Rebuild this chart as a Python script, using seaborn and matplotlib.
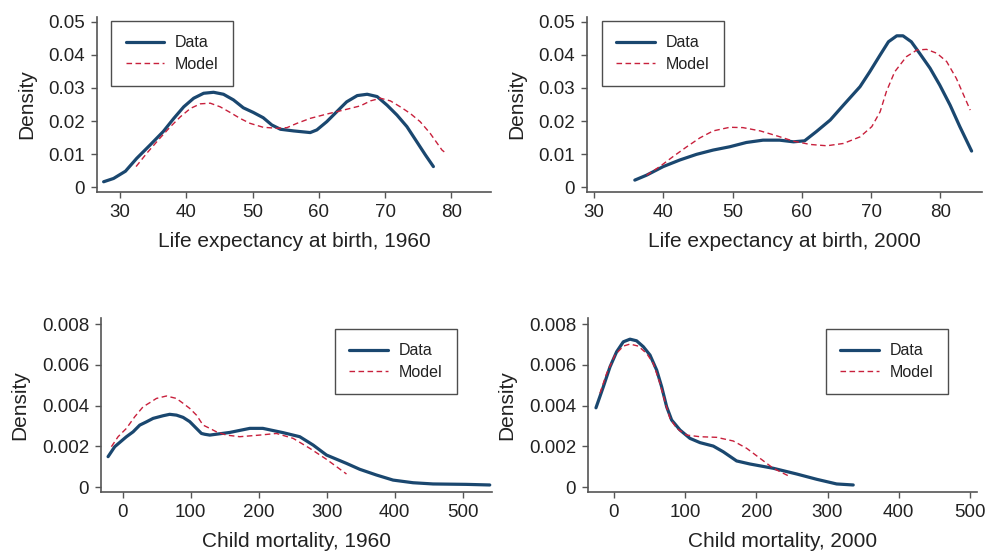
import matplotlib
matplotlib.use("Agg")
import matplotlib.pyplot as plt
import seaborn as sns
import pandas as pd

# ---- Life expectancy 1960 ----
le60_data_x = [27.5, 29.0, 30.8, 32.5, 34.5, 36.5, 38.1, 39.6, 41.1, 42.6, 44.1, 45.6, 47.1,
               48.6, 50.1, 51.6, 52.9, 54.2, 56.2, 58.7, 59.7, 61.2, 62.7, 64.2, 65.8, 67.3,
               68.8, 70.3, 71.8, 73.3, 74.8, 76.1, 77.3]
le60_data_y = [0.0016, 0.0026, 0.0048, 0.0087, 0.0127, 0.0168, 0.0208, 0.0243, 0.0269, 0.0284,
               0.0287, 0.0281, 0.0264, 0.0240, 0.0226, 0.0210, 0.0188, 0.0175, 0.0170, 0.0165,
               0.0173, 0.0198, 0.0228, 0.0258, 0.0277, 0.0281, 0.0274, 0.0248, 0.0218, 0.0183,
               0.0137, 0.0097, 0.0062]
le60_model_x = [32.4, 34.0, 36.0, 37.6, 39.1, 40.6, 42.1, 43.6, 45.1, 46.6, 48.1, 49.6, 51.6,
                53.7, 55.2, 56.7, 58.7, 61.2, 63.7, 66.3, 67.8, 69.3, 70.8, 72.3, 73.8, 75.3,
                76.8, 78.6, 79.1]
le60_model_y = [0.0062, 0.0102, 0.0148, 0.0183, 0.0213, 0.0238, 0.0252, 0.0254, 0.0243, 0.0226,
                0.0208, 0.0193, 0.0181, 0.0178, 0.0180, 0.0193, 0.0208, 0.0221, 0.0233, 0.0246,
                0.0261, 0.0269, 0.0261, 0.0243, 0.0223, 0.0198, 0.0163, 0.0112, 0.0104]

# ---- Life expectancy 2000 ----
le00_data_x = [35.9, 37.6, 40.0, 42.4, 44.8, 47.2, 49.6, 52.0, 54.4, 56.8, 58.8, 60.4, 62.1,
               64.1, 66.0, 68.4, 69.8, 71.3, 72.5, 73.7, 74.6, 75.8, 77.0, 78.5, 79.9, 81.4,
               82.8, 84.5]
le00_data_y = [0.0021, 0.0036, 0.0062, 0.0082, 0.0099, 0.0112, 0.0122, 0.0135, 0.0142, 0.0142,
               0.0137, 0.0140, 0.0168, 0.0203, 0.0248, 0.0304, 0.0349, 0.0400, 0.0440, 0.0458,
               0.0458, 0.0440, 0.0405, 0.0360, 0.0309, 0.0248, 0.0183, 0.0109]
le00_model_x = [37.6, 39.5, 41.4, 43.4, 45.3, 47.2, 49.6, 51.5, 54.0, 56.4, 58.8, 61.2, 63.6,
                66.0, 68.4, 70.1, 71.3, 72.2, 73.4, 75.1, 76.6, 78.0, 79.5, 80.9, 82.3, 84.3]
le00_model_y = [0.0036, 0.0062, 0.0092, 0.0122, 0.0149, 0.0170, 0.0181, 0.0180, 0.0170, 0.0155,
                0.0139, 0.0129, 0.0125, 0.0132, 0.0152, 0.0183, 0.0228, 0.0289, 0.0349, 0.0395,
                0.0415, 0.0417, 0.0405, 0.0380, 0.0329, 0.0233]

# ---- Child mortality 1960 ----
cm60_data_x = [-21.6, -11.8, 5.4, 15.2, 25, 34.8, 44.6, 59.3, 69, 79.0, 88.7, 98.5, 105.9,
               115.7, 120.6, 128, 157.4, 186.8, 206, 235.7, 260.3, 280, 299.6, 329, 348.5, 373,
               397.5, 426.9, 456.3, 505, 539.7]
cm60_data_y = [0.00149, 0.00198, 0.00247, 0.00271, 0.00304, 0.00320, 0.00337, 0.00350, 0.00357,
               0.00353, 0.00342, 0.00321, 0.00296, 0.00263, 0.00259, 0.00255, 0.00268, 0.00288,
               0.00288, 0.00267, 0.00247, 0.00206, 0.00157, 0.00116, 0.00087, 0.00059, 0.00034,
               0.00021, 0.00015, 0.00013, 0.00010]
cm60_model_x = [-16.7, -6.9, 5.4, 17.6, 29.9, 39.7, 49.5, 64.2, 78.9, 88.7, 98.5, 108.4, 118.1,
                128, 137.7, 152.5, 172, 201.5, 226, 250.5, 275, 299.6, 329]
cm60_model_y = [0.00198, 0.00247, 0.00288, 0.00345, 0.00394, 0.00414, 0.00435, 0.00447, 0.00435,
                0.00411, 0.00386, 0.00353, 0.00304, 0.00288, 0.00271, 0.00255, 0.00247, 0.00255,
                0.00263, 0.00239, 0.00190, 0.00136, 0.00064]

# ---- Child mortality 2000 ----
cm00_data_x = [-25.3, -15.0, -5.6, 3.7, 13.1, 22.5, 31.8, 41.2, 50.6, 60.0, 67.0, 74.0, 81.0,
               92.7, 106.7, 120.8, 139.5, 153.5, 172.3, 191.0, 223.8, 256.6, 284.7, 312.8, 336.1]
cm00_data_y = [0.00389, 0.00492, 0.00590, 0.00664, 0.00713, 0.00726, 0.00718, 0.00689, 0.00648,
               0.00574, 0.00492, 0.00394, 0.00329, 0.00280, 0.00239, 0.00218, 0.00201, 0.00173,
               0.00128, 0.00113, 0.00092, 0.00064, 0.00038, 0.00015, 0.00010]
cm00_model_x = [-19.7, -10.3, 1.4, 13.1, 22.5, 34.1, 45.9, 55.2, 64.6, 71.6, 78.7, 88.1, 102.1,
                120.8, 144.2, 167.6, 186.4, 205.1, 223.8, 247.2]
cm00_model_y = [0.00460, 0.00558, 0.00648, 0.00692, 0.00702, 0.00692, 0.00656, 0.00607, 0.00509,
                0.00419, 0.00337, 0.00288, 0.00255, 0.00247, 0.00244, 0.00226, 0.00190, 0.00141,
                0.00092, 0.00051]

xlabels = ["Life expectancy at birth, 1960", "Life expectancy at birth, 2000",
           "Child mortality, 1960", "Child mortality, 2000"]
le_xticks = [30, 40, 50, 60, 70, 80]
le_yticks = [0, 0.01, 0.02, 0.03, 0.04, 0.05]
le_yticklabels = ["0", "0.01", "0.02", "0.03", "0.04", "0.05"]
cm_xticks = [0, 100, 200, 300, 400, 500]
cm_yticks = [0, 0.002, 0.004, 0.006, 0.008]
cm_yticklabels = ["0", "0.002", "0.004", "0.006", "0.008"]

sns.set_theme(style="ticks")
plt.rcParams["font.family"] = ["Liberation Sans", "DejaVu Sans"]
plt.rcParams["lines.solid_capstyle"] = "round"
plt.rcParams["lines.solid_joinstyle"] = "round"
TXT = "#222222"
AX = "#555555"
DATA_C = "#1a476f"
MODEL_C = "#c8203c"

W, H = 987, 556
fig = plt.figure(figsize=(W / 100, H / 100), dpi=100)

def rect(l, r, t, b):
    return [l / W, 1 - b / H, (r - l) / W, (b - t) / H]

panels = [
    dict(rect=rect(97, 491, 17, 192), xlim=(26.5, 86.0), ylim=(-0.0015, 0.0515),
         dx=le60_data_x, dy=le60_data_y, mx=le60_model_x, my=le60_model_y,
         xt=le_xticks, yt=le_yticks, ytl=le_yticklabels, leg=(0.036, 0.977)),
    dict(rect=rect(587, 982, 17, 192), xlim=(29.0, 86.0), ylim=(-0.0015, 0.0515),
         dx=le00_data_x, dy=le00_data_y, mx=le00_model_x, my=le00_model_y,
         xt=le_xticks, yt=le_yticks, ytl=le_yticklabels, leg=(0.038, 0.977)),
    dict(rect=rect(101, 492, 318, 492), xlim=(-32, 543), ylim=(-0.000245, 0.0083),
         dx=cm60_data_x, dy=cm60_data_y, mx=cm60_model_x, my=cm60_model_y,
         xt=cm_xticks, yt=cm_yticks, ytl=cm_yticklabels, leg=(0.598, 0.937)),
    dict(rect=rect(588, 977, 318, 492), xlim=(-36.5, 510), ylim=(-0.000245, 0.0083),
         dx=cm00_data_x, dy=cm00_data_y, mx=cm00_model_x, my=cm00_model_y,
         xt=cm_xticks, yt=cm_yticks, ytl=cm_yticklabels, leg=(0.612, 0.937)),
]

for i, p in enumerate(panels):
    ax = fig.add_axes(p["rect"])
    df_d = pd.DataFrame({"x": p["dx"], "y": p["dy"]})
    df_m = pd.DataFrame({"x": p["mx"], "y": p["my"]})
    sns.lineplot(data=df_d, x="x", y="y", ax=ax, color=DATA_C, lw=2.3,
                 label="Data", sort=False)
    sns.lineplot(data=df_m, x="x", y="y", ax=ax, color=MODEL_C, lw=1.0,
                 dashes=False, linestyle=(0, (4, 2.5)), label="Model", sort=False)
    ax.set_xlim(*p["xlim"])
    ax.set_ylim(*p["ylim"])
    ax.set_xticks(p["xt"])
    ax.set_yticks(p["yt"])
    ax.set_yticklabels(p["ytl"])
    ax.tick_params(axis="both", labelsize=13.5, colors=AX, labelcolor=TXT,
                   length=4.5, width=1.0, direction="out", pad=4)
    ax.set_xlabel(xlabels[i], fontsize=15, color=TXT, labelpad=8)
    ax.set_ylabel("Density", fontsize=15, color=TXT, labelpad=9)
    sns.despine(ax=ax)
    for s in ("left", "bottom"):
        ax.spines[s].set_color(AX)
        ax.spines[s].set_linewidth(1.2)
    leg = ax.legend(loc="upper left", bbox_to_anchor=p["leg"], fontsize=11.5,
                    frameon=True, fancybox=False, handlelength=2.4,
                    borderpad=0.9, labelspacing=0.4, borderaxespad=0,
                    handletextpad=0.7)
    leg.get_frame().set_edgecolor("#222222")
    leg.get_frame().set_linewidth(1.0)
    for t in leg.get_texts():
        t.set_color(TXT)
    ax.set_facecolor("white")

fig.savefig("out.png", dpi=100, facecolor="white")
